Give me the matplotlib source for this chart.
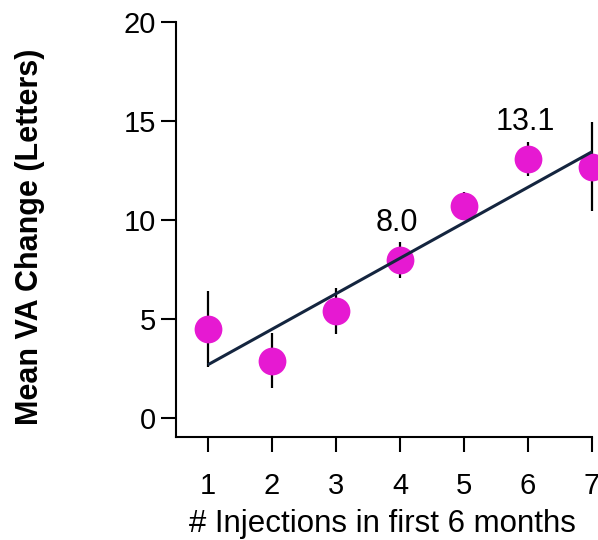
import matplotlib
matplotlib.use("Agg")
import matplotlib.pyplot as plt

plt.rcParams['font.family'] = ['Liberation Sans', 'DejaVu Sans']

# data
injections = [1, 2, 3, 4, 5, 6, 7]
mean_va = [4.5, 2.9, 5.4, 8.0, 10.7, 13.1, 12.7]
err_va = [1.9, 1.4, 1.15, 0.9, 0.7, 0.85, 2.25]
fit_x = [1, 7]
fit_y = [2.7, 13.45]
labelled = {4: "8.0", 6: "13.1"}

fig = plt.figure(figsize=(5.98, 5.40), dpi=100, facecolor='white')
ax = fig.add_axes([0.2943, 0.1907, 0.6957, 0.7686])

ax.errorbar(injections, mean_va, yerr=err_va, fmt='none', ecolor='black',
            elinewidth=1.6, capsize=0, zorder=2, clip_on=False)
ax.plot(injections, mean_va, 'o', color='#E619D2', markersize=20,
        markeredgewidth=0, zorder=3, clip_on=False)
ax.plot(fit_x, fit_y, color='#14253F', linewidth=2.2, zorder=4,
        solid_capstyle='butt', clip_on=False)

for i, txt in labelled.items():
    y = mean_va[injections.index(i)]
    ax.text(i - 0.05, y + 1.45, txt, ha='center', va='baseline', fontsize=22, color='black')

ax.set_xlim(0.5, 7)
ax.set_ylim(-0.95, 20)
ax.set_xticks(injections)
ax.set_yticks([0, 5, 10, 15, 20])

ax.set_xlabel('# Injections in first 6 months', fontsize=22.5, va='baseline')
ax.xaxis.set_label_coords(0.497, -0.229)
ax.set_ylabel('Mean VA Change (Letters)', fontsize=22, fontweight='bold', va='center')
ax.yaxis.set_label_coords(-0.351, 0.482)

for side in ['top', 'right']:
    ax.spines[side].set_visible(False)
for side in ['left', 'bottom']:
    ax.spines[side].set_linewidth(1.5)

ax.tick_params(axis='both', direction='out', length=10.5, width=1.5,
               labelsize=21, pad=4)
ax.tick_params(axis='x', pad=15)

fig.savefig('out.png', dpi=100, facecolor='white')
